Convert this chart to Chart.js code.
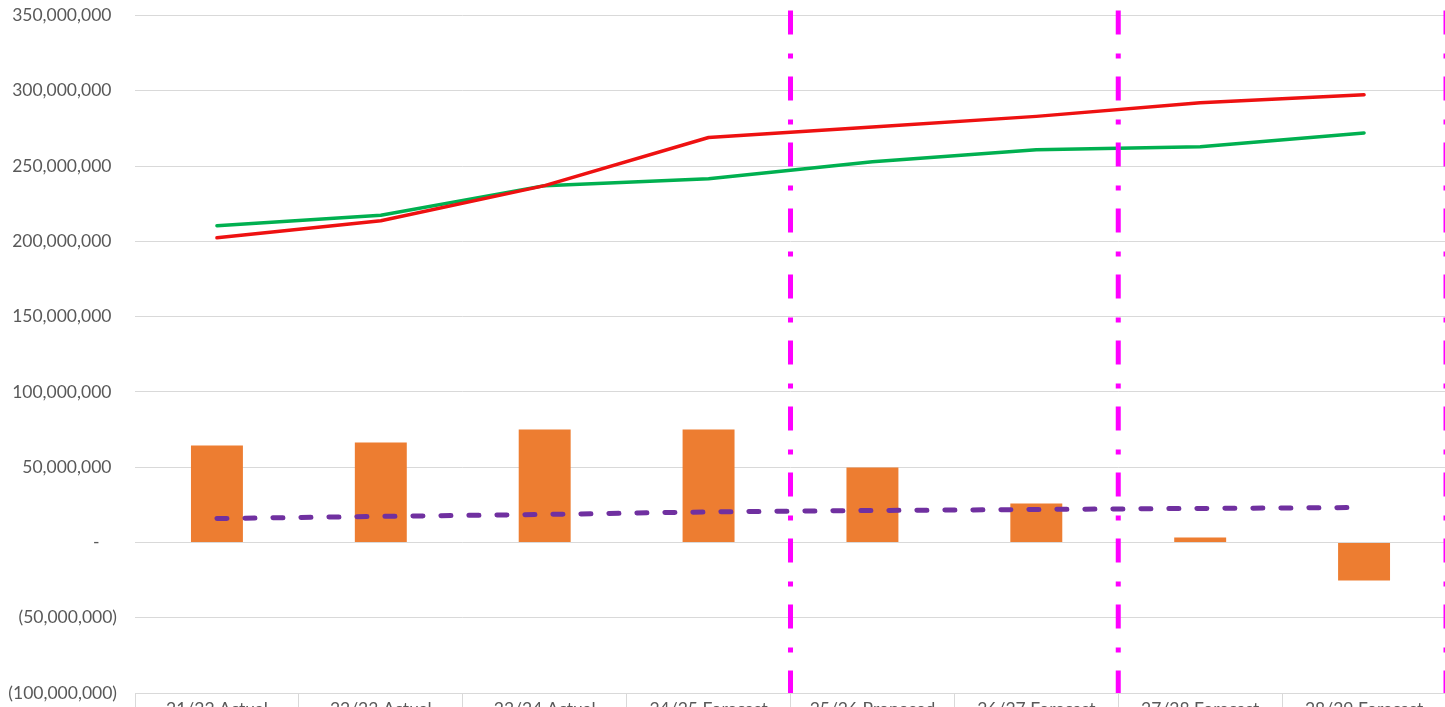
<!DOCTYPE html>
<html>
<head>
<meta charset="utf-8">
<script src="https://cdn.jsdelivr.net/npm/chart.js@4/dist/chart.umd.min.js"></script>
<style>
  html, body { margin: 0; padding: 0; overflow: hidden; background: #fff; width: 1445px; height: 707px; }
  #wrap { position: absolute; left: 0; top: -13px; width: 1460px; height: 753px; }
</style>
</head>
<body>
<div id="wrap"><canvas id="c" width="1460" height="753"></canvas></div>
<script>
const categories = ["21/22 Actual", "22/23 Actual", "23/24 Actual", "24/25 Forecast", "25/26 Proposed", "26/27 Forecast", "27/28 Forecast", "28/29 Forecast"];
const barValues = [64400000, 66400000, 75000000, 75000000, 49800000, 25900000, 3300000, -25200000];
const redValues = [202400000, 213700000, 237000000, 269000000, 276000000, 283000000, 292000000, 297300000];
const greenValues = [210400000, 217300000, 237000000, 241600000, 252900000, 260800000, 262800000, 272000000];
const purpleValues = [15900000, 17300000, 18600000, 20300000, 21200000, 21900000, 22600000, 23200000];
const yTickMin = -100000000;
const yTickMax = 350000000;
const yTickStep = 50000000;
const dividerPositions = [3.5, 5.5, 7.5];

function fmt(v) {
  if (v === 0) return "-\u2002\u2002";
  const s = Math.abs(v).toLocaleString("en-US");
  return v < 0 ? "(" + s + ")" : s + " \u200A";
}

const dividerPlugin = {
  id: "dividers",
  afterDatasetsDraw(chart) {
    const ctx = chart.ctx, x = chart.scales.x, area = chart.chartArea;
    ctx.save();
    ctx.strokeStyle = "#FF00FF";
    ctx.lineWidth = 5;
    ctx.setLineDash([24, 19, 5, 18]);
    dividerPositions.forEach(p => {
      const px = x.getPixelForValue(p);
      ctx.beginPath();
      ctx.moveTo(px, area.top - 5);
      ctx.lineTo(px, area.bottom);
      ctx.stroke();
    });
    ctx.restore();
  }
};

const FONT = { family: "Lato", size: 17.5 };

new Chart(document.getElementById("c"), {
  data: {
    labels: categories,
    datasets: [
      { type: "bar", data: barValues, backgroundColor: "#ED7D31", barPercentage: 0.317, categoryPercentage: 1, order: 10 },
      { type: "line", data: redValues, borderColor: "#EE1111", borderWidth: 3.5, pointRadius: 0, tension: 0, borderJoinStyle: "round", borderCapStyle: "round", order: 2 },
      { type: "line", data: greenValues, borderColor: "#00B050", borderWidth: 3.5, pointRadius: 0, tension: 0, borderJoinStyle: "round", borderCapStyle: "round", order: 3 },
      { type: "line", data: purpleValues, borderColor: "#7030A0", borderWidth: 5, borderDash: [10, 18], borderCapStyle: "round", pointRadius: 0, tension: 0, order: 1 }
    ]
  },
  options: {
    responsive: false,
    animation: false,
    layout: { padding: { top: 2, right: 14, left: 0, bottom: 0 } },
    plugins: { legend: { display: false }, tooltip: { enabled: false } },
    scales: {
      x: {
        offset: true,
        grid: { drawOnChartArea: false, drawTicks: true, tickLength: 20, offset: true, color: "#D9D9D9" },
        border: { display: true, color: "#D9D9D9" },
        ticks: { font: FONT, color: "#595959", padding: -14, maxRotation: 0, autoSkip: false },
        afterFit(s) { s.height = 47; }
      },
      y: {
        min: yTickMin, max: yTickMax,
        grid: { color: "#D9D9D9", drawTicks: false },
        border: { display: false },
        ticks: { stepSize: yTickStep, font: FONT, color: "#595959", padding: 18, callback: v => fmt(v) },
        afterFit(s) { s.width = 135; }
      }
    }
  },
  plugins: [dividerPlugin]
});
</script>
</body>
</html>
